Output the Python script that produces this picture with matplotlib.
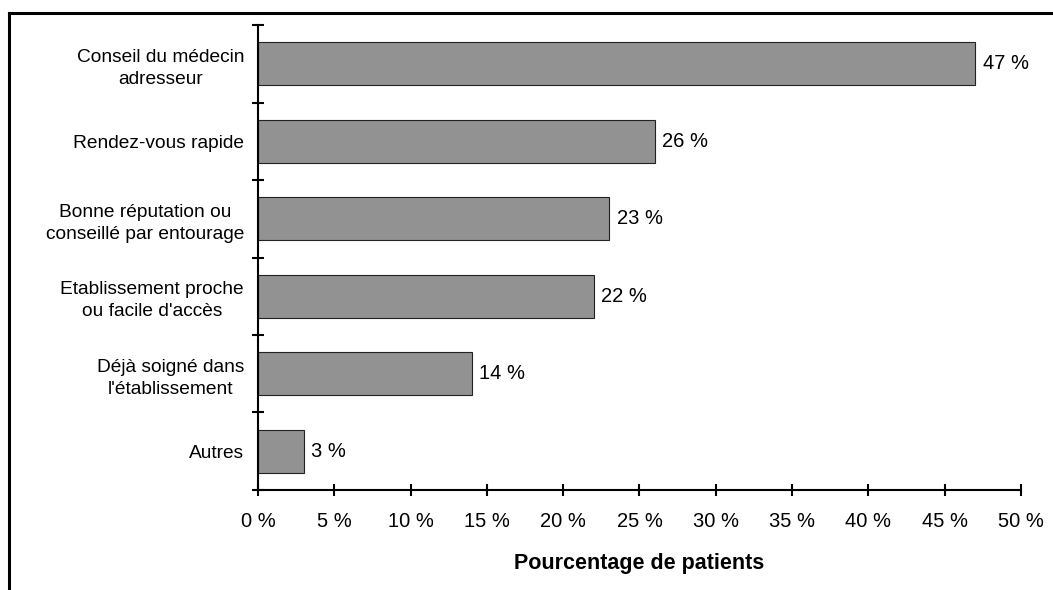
import matplotlib
matplotlib.use("Agg")
import matplotlib.pyplot as plt
from matplotlib.lines import Line2D
import numpy as np

categories = [
    "Conseil du médecin\nadresseur",
    "Rendez-vous rapide",
    "Bonne réputation ou\nconseillé par entourage",
    "Etablissement proche\nou facile d'accès",
    "Déjà soigné dans\nl'établissement",
    "Autres",
]
values = [47, 26, 23, 22, 14, 3]
xticks = [0, 5, 10, 15, 20, 25, 30, 35, 40, 45, 50]
xlabel = "Pourcentage de patients"

plt.rcParams["font.family"] = ["Liberation Sans", "DejaVu Sans"]

fig = plt.figure(figsize=(10.53, 5.90), dpi=100)
ax = fig.add_axes([0.245, 0.1695, 0.7246, 0.7881])

n = len(categories)
pos = np.arange(n)
ax.barh(pos, values, height=0.55, color="#929292", edgecolor="#222222", linewidth=0.8)
ax.set_ylim(n - 0.5, -0.5)
ax.set_xlim(0, 50)

for p, v in zip(pos, values):
    ax.text(v + 0.5, p, f"{v} %", va="center", ha="left", fontsize=14.5)

ax.set_xticks(xticks)
ax.set_xticklabels([f"{t} %" for t in xticks], fontsize=14.5)
ax.set_yticks(pos)
ax.set_yticklabels(categories, fontsize=13.8, multialignment="center", linespacing=1.4)
ax.set_yticks(np.arange(-0.5, n, 1.0), minor=True)

ax.tick_params(axis="y", which="major", length=0, pad=10)
ax.tick_params(axis="y", which="minor", direction="inout", length=9, width=1.5)
ax.tick_params(axis="x", which="major", direction="inout", length=9, width=1.5, pad=11)

for s in ("top", "right"):
    ax.spines[s].set_visible(False)
for s in ("left", "bottom"):
    ax.spines[s].set_linewidth(1.5)

ax.set_xlabel(xlabel, fontsize=15.5, fontweight="bold", labelpad=16)

# frame along the left and top edges of the figure
fig.add_artist(Line2D([9 / 1053, 9 / 1053], [0, 1 - 13 / 590], transform=fig.transFigure, color="black", linewidth=2.2))
fig.add_artist(Line2D([9 / 1053, 1], [1 - 13 / 590, 1 - 13 / 590], transform=fig.transFigure, color="black", linewidth=2.2))

fig.savefig("out.png", dpi=100)
